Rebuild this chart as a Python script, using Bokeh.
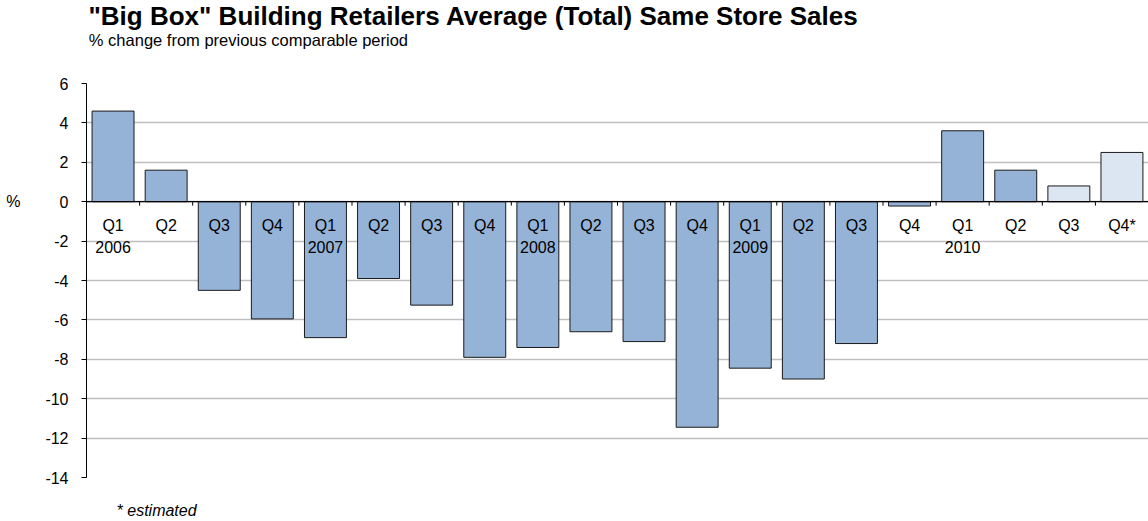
from bokeh.plotting import figure
from bokeh.models import (Range1d, FixedTicker, ColumnDataSource, Span, Title,
                          LinearAxis)
from bokeh.core.properties import value
from bokeh.embed import file_html
from bokeh.resources import INLINE

# ---- data ----
quarters = ["Q1", "Q2", "Q3", "Q4", "Q1", "Q2", "Q3", "Q4", "Q1", "Q2",
            "Q3", "Q4", "Q1", "Q2", "Q3", "Q4", "Q1", "Q2", "Q3", "Q4*"]
years = ["2006", "", "", "", "2007", "", "", "", "2008", "",
         "", "", "2009", "", "", "", "2010", "", "", ""]
sales_change = [4.6, 1.6, -4.5, -5.95, -6.9, -3.9, -5.25, -7.9, -7.4, -6.6,
                -7.1, -11.45, -8.45, -9.0, -7.2, -0.22, 3.6, 1.6, 0.8, 2.5]
estimated = [False] * 18 + [True, True]
y_ticks = [-14, -12, -10, -8, -6, -4, -2, 0, 2, 4, 6]

title_text = '"Big Box" Building Retailers  Average (Total) Same Store Sales'
subtitle_text = "% change from previous comparable period"
unit_text = "%"
note_text = "* estimated"

FONT = "Liberation Sans"
ACTUAL = "#95B3D7"
EST = "#DCE6F2"

n = len(quarters)
xs = [i + 0.5 for i in range(n)]
colors = [EST if e else ACTUAL for e in estimated]
year_x = [xs[i] for i, y in enumerate(years) if y]
year_t = [y for y in years if y]
bounds = list(range(1, n))

src = ColumnDataSource(dict(x=xs, top=sales_change, color=colors, q=quarters))
ysrc = ColumnDataSource(dict(x=year_x, t=year_t))

p = figure(width=1148, height=521, output_backend="svg", toolbar_location=None,
           x_range=Range1d(0, n), y_range=Range1d(-14, 6),
           min_border_left=86, min_border_right=0, min_border_top=83,
           min_border_bottom=44, title=None)
p.outline_line_color = None
p.background_fill_color = "white"

p.xaxis.visible = False
p.xgrid.grid_line_color = None
p.ygrid.ticker = FixedTicker(ticks=y_ticks)
p.ygrid.grid_line_color = "#BFBFBF"
p.ygrid.grid_line_width = 1.5

p.vbar(x="x", top="top", bottom=0, width=0.79, fill_color="color",
       line_color="#1a1a1a", line_width=1, source=src)

# zero line and ticks between categories
p.add_layout(Span(location=0, dimension="width", line_color="black",
                  line_width=1.2))
p.segment(x0=bounds, y0=[0] * len(bounds), x1=bounds,
          y1=[-0.2] * len(bounds), line_color="black", line_width=1)

# category labels
p.text(x="x", y=-1.23, text="q", source=src, text_align="center",
       text_baseline="middle", text_font=value(FONT), text_font_size="16px",
       text_color="black")
p.text(x="x", y=-2.29, text="t", source=ysrc, text_align="center",
       text_baseline="middle", text_font=value(FONT), text_font_size="16px",
       text_color="black")

ya = p.yaxis[0]
ya.ticker = FixedTicker(ticks=y_ticks)
ya.major_label_overrides = {t: str(t) for t in y_ticks}
ya.major_tick_out = 5
ya.major_tick_in = 0
ya.minor_tick_line_color = None
ya.major_label_standoff = 13
ya.major_label_text_font = FONT
ya.major_label_text_font_size = "16px"
ya.major_label_text_color = "black"
ya.axis_line_color = "black"
ya.major_tick_line_color = "black"


def text_axis(tick, label, standoff, size, style="normal"):
    ax = LinearAxis(ticker=FixedTicker(ticks=[tick]),
                    major_label_overrides={tick: label})
    ax.axis_line_color = None
    ax.major_tick_line_color = None
    ax.minor_tick_line_color = None
    ax.major_tick_out = 0
    ax.major_tick_in = 0
    ax.major_label_standoff = standoff
    ax.major_label_text_font = FONT
    ax.major_label_text_font_size = size
    ax.major_label_text_font_style = style
    ax.major_label_text_color = "black"
    return ax


# unit label "%" at the zero level, left of the axis
p.add_layout(text_axis(0, unit_text, 22, "16px"), "left")
# subtitle (above the frame) and footnote (below the frame)
p.add_layout(text_axis(3.05, subtitle_text, 35, "16.5px"), "above")
p.add_layout(text_axis(1.32, note_text, 24, "16px", "italic"), "below")

p.add_layout(Title(text=title_text, align="left", offset=2, standoff=-7,
                   text_font=FONT, text_font_size="26px",
                   text_font_style="bold", text_color="black"), "above")

open("out.html", "w").write(file_html(p, INLINE))
